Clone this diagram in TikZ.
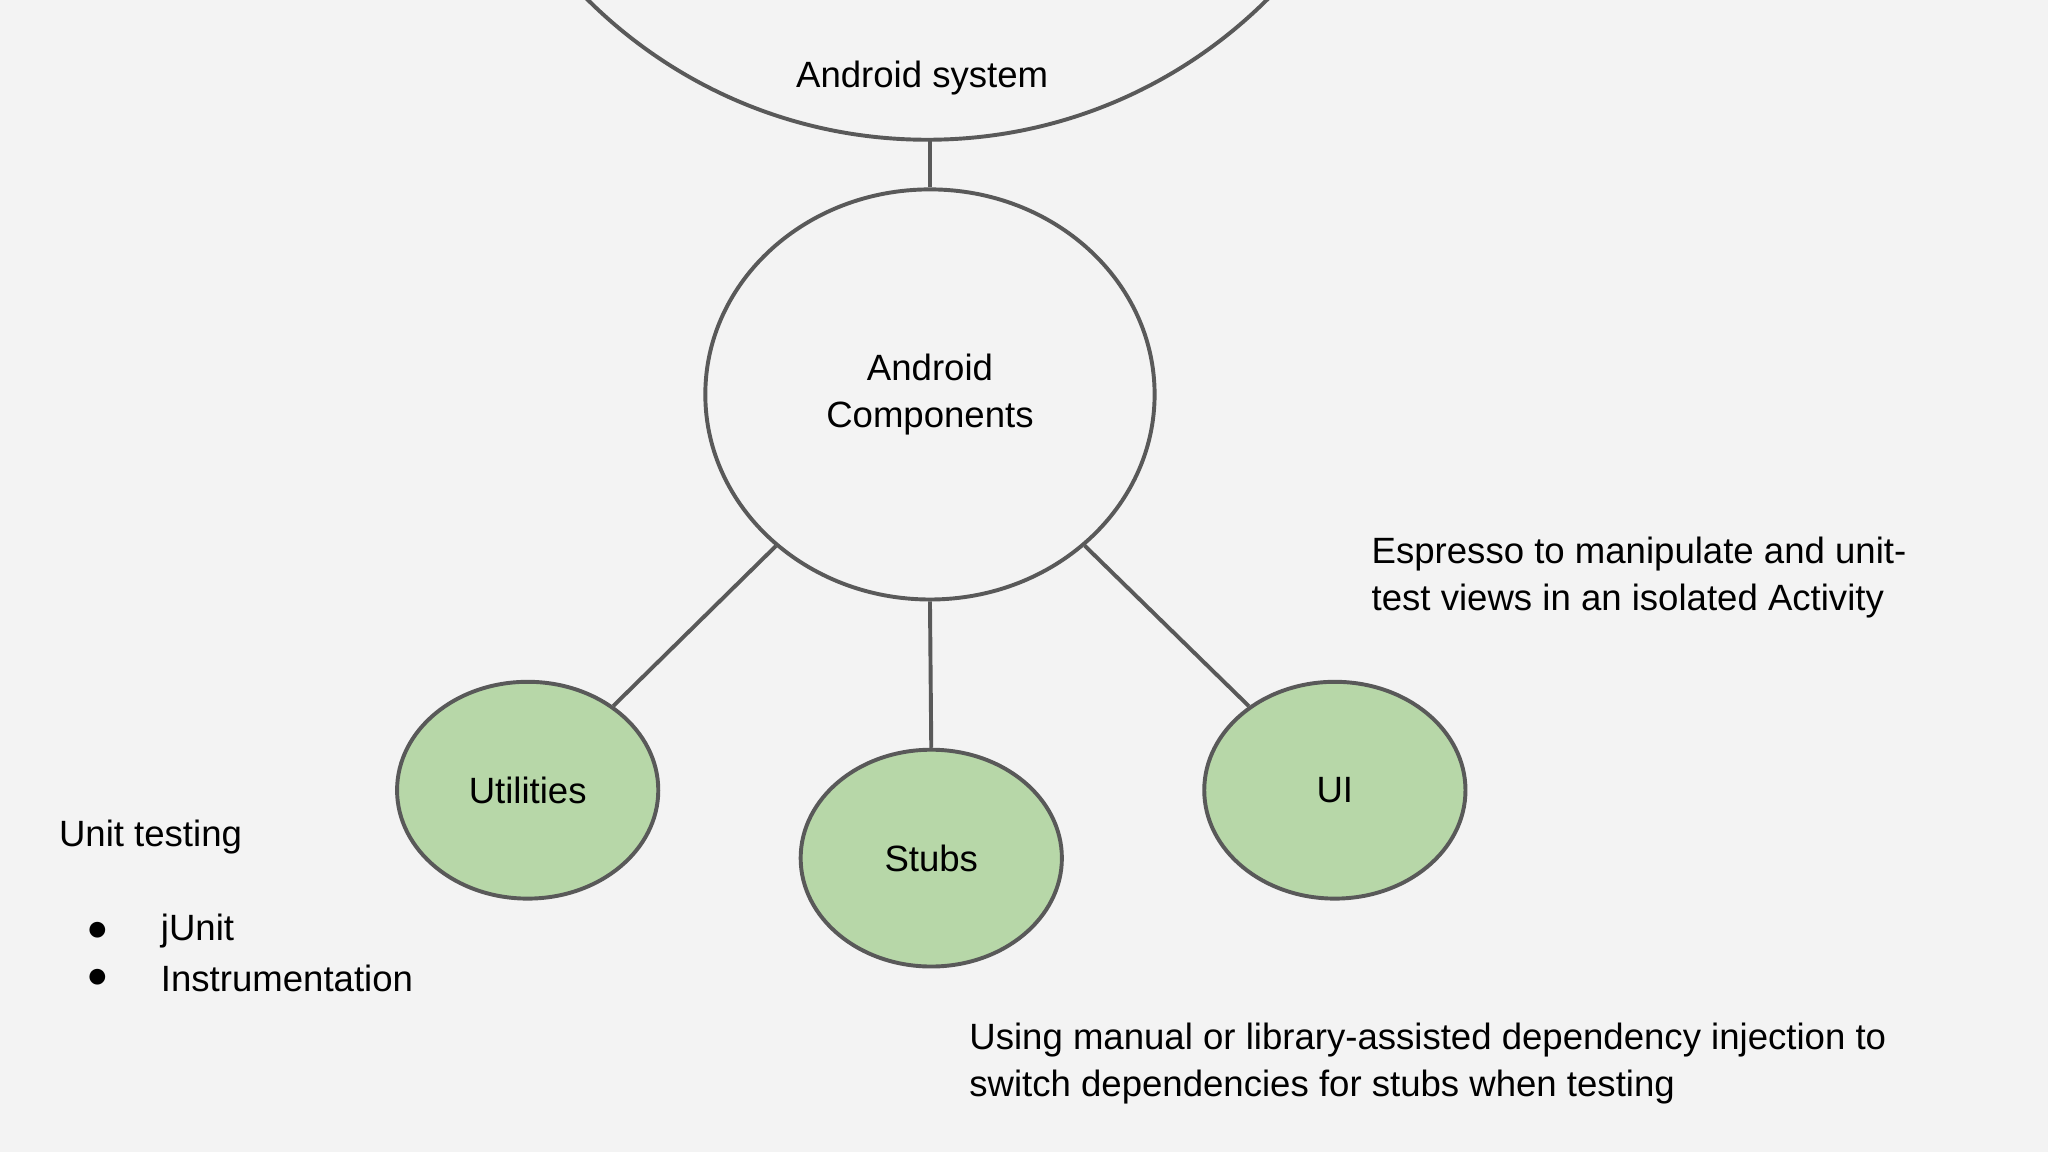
\documentclass[tikz,border=0pt]{standalone}
\usepackage{fontspec}
\setmainfont{Liberation Sans}
\usetikzlibrary{shapes.geometric}
\definecolor{bg}{HTML}{F3F3F3}
\definecolor{ln}{HTML}{595959}
\definecolor{gr}{HTML}{B7D7A8}
\begin{document}
\begin{tikzpicture}[x=1pt,y=-1pt,
  txt/.style={font=\fontsize{28}{36}\selectfont,inner sep=0pt,align=left},
  comp/.style={ellipse,draw=ln,line width=3pt},
  leaf/.style={ellipse,draw=ln,fill=gr,line width=3pt,minimum width=200pt,minimum height=166pt,font=\fontsize{28}{36}\selectfont},
  conn/.style={draw=ln,line width=3pt}]
\fill[bg] (0,0) rectangle (1568,882);
\useasboundingbox (0,0) rectangle (1568,882);
\begin{scope}
\clip (0,0) rectangle (1568,882);
\draw[ln,line width=3pt] (710,-262) circle (369);
\end{scope}
\coordinate (sysb) at (712,107);
\node[txt] at (706,60) {Android system};
\node[comp,minimum width=344pt,minimum height=314pt,align=center,font=\fontsize{28}{36}\selectfont] (ac) at (712,302) {Android\\Components};
\node[leaf] (ut) at (404,605) {Utilities};
\node[leaf] (st) at (713,657) {Stubs};
\node[leaf] (ui) at (1022,605) {UI};
\draw[conn] (sysb) -- (ac.north);
\draw[conn] (ac) -- (ut);
\draw[conn] (ac.south) -- (st.north);
\draw[conn] (ac) -- (ui);
\node[txt,anchor=west] (esp) at (1050,442) {Espresso to manipulate and unit-\\test views in an isolated Activity};
\node[txt,anchor=west] (un) at (45,641) {Unit testing};
\node[txt,anchor=west] (b1) at (66,713) {●};
\node[txt,anchor=west] (b2) at (66,749) {●};
\node[txt,anchor=west] (j) at (123,713) {jUnit};
\node[txt,anchor=west] (in) at (123,749) {Instrumentation};
\node[txt,anchor=west] (di) at (742,814) {Using manual or library-assisted dependency injection to\\switch dependencies for stubs when testing};
\end{tikzpicture}
\end{document}
